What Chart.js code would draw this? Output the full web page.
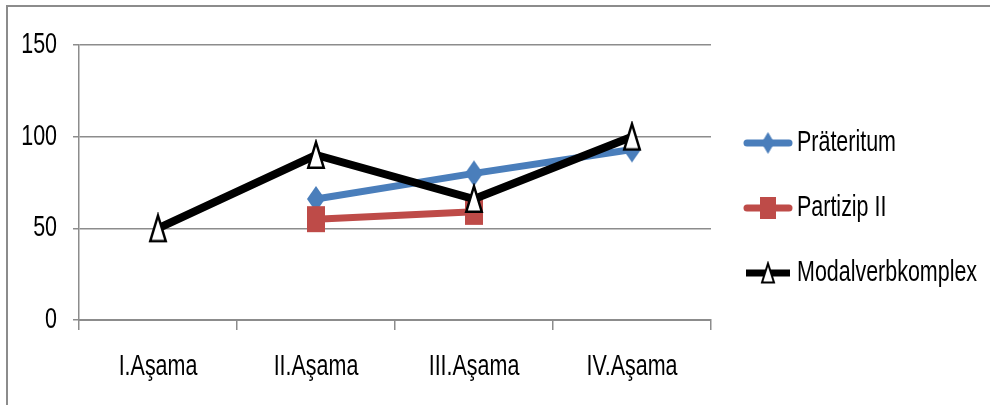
<!DOCTYPE html>
<html>
<head>
<meta charset="utf-8">
<script src="https://cdn.jsdelivr.net/npm/chart.js@4"></script>
<style>
  html, body { margin: 0; padding: 0; background: #fff; }
  #wrap { width: 990px; height: 405px; }
</style>
</head>
<body>
<div id="wrap"><canvas id="chart" width="990" height="405"></canvas></div>
<script>
// categories and series
const stages = ["I.Aşama", "II.Aşama", "III.Aşama", "IV.Aşama"];
const praeteritum = [null, 66, 80, 93];
const partizip2 = [null, 55, 59, null];
const modalverb = [50, 90, 66, 100];
const yTicks = [0, 50, 100, 150];
const seriesNames = ["Präteritum", "Partizip II", "Modalverbkomplex"];

const FONT = "29px 'Liberation Sans', Arial, sans-serif";
const SQUEEZE = 0.74; // narrow Calibri look

// tall markers like in the (stretched) original
function marker(kind, w, h, fill, stroke, lw) {
    const c = document.createElement("canvas");
    c.width = w + 4; c.height = h + 4;
    const g = c.getContext("2d");
    g.fillStyle = fill;
    g.strokeStyle = stroke;
    g.lineWidth = lw;
    g.lineJoin = "miter";
    g.beginPath();
    const x0 = 2, y0 = 2;
    if (kind === "diamond") {
        g.moveTo(x0 + w / 2, y0); g.lineTo(x0 + w, y0 + h / 2);
        g.lineTo(x0 + w / 2, y0 + h); g.lineTo(x0, y0 + h / 2);
    } else if (kind === "square") {
        g.rect(x0, y0, w, h);
    } else {
        g.moveTo(x0 + w / 2, y0 + lw / 2); g.lineTo(x0 + w - lw / 2, y0 + h - lw / 2);
        g.lineTo(x0 + lw / 2, y0 + h - lw / 2);
    }
    g.closePath();
    g.fill();
    if (lw) g.stroke();
    return c;
}

const mkDiamond = marker("diamond", 18, 26, "#4A7EBB", null, 0);
const mkSquare = marker("square", 18, 26, "#BE4B48", null, 0);
const mkTriangle = marker("triangle", 18, 28, "#fff", "#000", 2.5);
const lgDiamond = marker("diamond", 13, 22, "#4A7EBB", null, 0);
const lgSquare = marker("square", 16, 22, "#BE4B48", null, 0);
const lgTriangle = marker("triangle", 14, 21, "#fff", "#000", 2);

function squeezedText(ctx, text, x, y, align) {
    ctx.save();
    ctx.font = FONT;
    ctx.textBaseline = "middle";
    const w = ctx.measureText(text).width * SQUEEZE;
    let left = x;
    if (align === "center") left = x - w / 2;
    if (align === "right") left = x - w;
    ctx.translate(left, y);
    ctx.scale(SQUEEZE, 1);
    ctx.fillStyle = "#000";
    ctx.fillText(text, 0, 0);
    ctx.restore();
}

const excelLook = {
    id: "excelLook",
    beforeDraw(chart) {
        const ctx = chart.ctx;
        ctx.save();
        ctx.fillStyle = "#fff";
        ctx.fillRect(0, 0, chart.width, chart.height);
        ctx.strokeStyle = "#8c8c8c";
        ctx.lineWidth = 2;
        ctx.beginPath();
        ctx.moveTo(7, 405); ctx.lineTo(7, 6); ctx.lineTo(990, 6);
        ctx.stroke();
        ctx.restore();
    },
    afterDraw(chart) {
        const ctx = chart.ctx;
        const xs = chart.scales.x, ys = chart.scales.y;
        // axis labels
        yTicks.forEach(v => squeezedText(ctx, String(v), 57, ys.getPixelForValue(v), "right"));
        stages.forEach((s, i) => squeezedText(ctx, s, xs.getPixelForValue(i), 367, "center"));
        // legend: line with marker
        const rows = [143, 208, 273];
        const lg = [lgDiamond, lgSquare, lgTriangle];
        chart.data.datasets.forEach((ds, i) => {
            const y = rows[i];
            ctx.save();
            ctx.strokeStyle = ds.borderColor;
            ctx.lineWidth = 7;
            ctx.lineCap = i === 2 ? "butt" : "round";
            ctx.beginPath();
            ctx.moveTo(i === 2 ? 746 : 747, y);
            ctx.lineTo(i === 2 ? 790 : 789, y);
            ctx.stroke();
            ctx.drawImage(lg[i], 768 - lg[i].width / 2, y - lg[i].height / 2);
            ctx.restore();
            squeezedText(ctx, ds.label, 797, y, "left");
        });
    }
};

new Chart(document.getElementById("chart"), {
    type: "line",
    data: {
        labels: stages,
        datasets: [
            {
                label: seriesNames[0],
                data: praeteritum,
                borderColor: "#4A7EBB",
                backgroundColor: "#4A7EBB",
                borderWidth: 7,
                pointStyle: mkDiamond,
                order: 3
            },
            {
                label: seriesNames[1],
                data: partizip2,
                borderColor: "#BE4B48",
                backgroundColor: "#BE4B48",
                borderWidth: 7,
                pointStyle: mkSquare,
                order: 2
            },
            {
                label: seriesNames[2],
                data: modalverb,
                borderColor: "#000",
                backgroundColor: "#000",
                borderWidth: 8,
                pointStyle: mkTriangle,
                order: 1
            }
        ]
    },
    options: {
        responsive: false,
        animation: false,
        spanGaps: false,
        layout: { padding: { top: 45, right: 279, bottom: 0, left: 0 } },
        plugins: {
            legend: { display: false },
            tooltip: { enabled: false }
        },
        elements: { line: { tension: 0, borderJoinStyle: "miter" } },
        scales: {
            x: {
                offset: true,
                grid: {
                    offset: true,
                    drawOnChartArea: false,
                    color: "#8c8c8c",
                    lineWidth: 1.5,
                    tickLength: 10
                },
                border: { color: "#8c8c8c", width: 2 },
                ticks: { display: false },
                afterFit(scale) { scale.height = 85; }
            },
            y: {
                min: 0,
                max: 150,
                afterBuildTicks(scale) { scale.ticks = yTicks.map(v => ({ value: v })); },
                grid: {
                    color: "#8c8c8c",
                    lineWidth: 1.5,
                    tickLength: 6
                },
                border: { color: "#8c8c8c", width: 1.5 },
                ticks: { display: false },
                afterFit(scale) { scale.width = 79; }
            }
        }
    },
    plugins: [excelLook]
});
</script>
</body>
</html>
